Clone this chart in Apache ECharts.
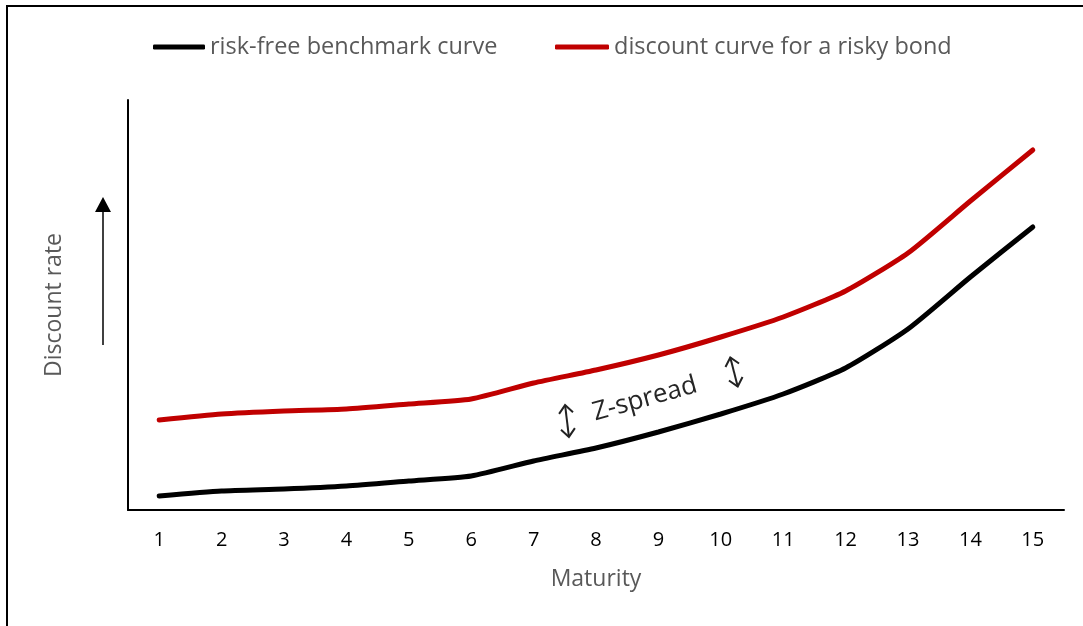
<!DOCTYPE html>
<html>
<head>
<meta charset="utf-8">
<script src="https://cdn.jsdelivr.net/npm/echarts@6/dist/echarts.min.js"></script>
<style>
html,body{margin:0;padding:0;background:#fff;}
#chart{width:1083px;height:626px;}
</style>
</head>
<body>
<div id="chart"></div>
<script>
const maturities = ['1','2','3','4','5','6','7','8','9','10','11','12','13','14','15'];
const riskFree = [1.4, 1.9, 2.1, 2.4, 2.9, 3.4, 4.9, 6.2, 7.8, 9.6, 11.6, 14.2, 18.1, 23.3, 28.3];
const risky = [9.0, 9.6, 9.9, 10.1, 10.6, 11.1, 12.7, 14.0, 15.5, 17.3, 19.3, 21.9, 25.7, 30.9, 36.0];
const seriesNames = ['risk-free benchmark curve', 'discount curve for a risky bond'];

const FONT = 'Open Sans';
const chart = echarts.init(document.getElementById('chart'), null, {renderer: 'canvas'});

function dblArrow(cx, cy, half, rot) {
  return {
    type: 'group', x: cx, y: cy, rotation: rot, silent: true,
    children: [
      {type: 'line', shape: {x1: 0, y1: -half, x2: 0, y2: half}, style: {stroke: '#222', lineWidth: 2}},
      {type: 'polyline', shape: {points: [[-7, -half + 8], [0, -half], [7, -half + 8]]}, style: {stroke: '#222', lineWidth: 2, fill: null}},
      {type: 'polyline', shape: {points: [[-7, half - 8], [0, half], [7, half - 8]]}, style: {stroke: '#222', lineWidth: 2, fill: null}}
    ]
  };
}

chart.setOption({
  animation: false,
  backgroundColor: '#fff',
  textStyle: {fontFamily: FONT},
  legend: [
    {data: [seriesNames[0]], left: 153, top: 35, padding: 0, itemWidth: 52, itemHeight: 5, icon: 'roundRect', itemGap: 5,
     textStyle: {fontFamily: FONT, fontSize: 23.5, color: '#595959'}},
    {data: [seriesNames[1]], left: 555, top: 35, padding: 0, itemWidth: 54, itemHeight: 5, icon: 'roundRect', itemGap: 5,
     textStyle: {fontFamily: FONT, fontSize: 23.5, color: '#595959'}}
  ],
  grid: {left: 128, right: 19, top: 100, bottom: 116},
  xAxis: {
    type: 'category', data: maturities, boundaryGap: true,
    axisLine: {lineStyle: {color: '#000', width: 2}},
    axisTick: {show: false},
    axisLabel: {color: '#000', fontSize: 20, fontFamily: FONT, margin: 20},
    name: 'Maturity', nameLocation: 'middle', nameGap: 58,
    nameTextStyle: {color: '#595959', fontSize: 23, fontFamily: FONT}
  },
  yAxis: {
    type: 'value', min: 0, max: 41,
    axisLine: {show: true, lineStyle: {color: '#000', width: 2}},
    axisTick: {show: false}, axisLabel: {show: false}, splitLine: {show: false},
    name: 'Discount rate', nameLocation: 'middle', nameGap: 62, nameRotate: 90,
    nameTextStyle: {color: '#595959', fontSize: 23, fontFamily: FONT}
  },
  series: [
    {name: seriesNames[0], type: 'line', data: riskFree, symbol: 'none', smooth: 0.2,
     lineStyle: {color: '#000', width: 5, cap: 'round'}, itemStyle: {color: '#000'}},
    {name: seriesNames[1], type: 'line', data: risky, symbol: 'none', smooth: 0.2,
     lineStyle: {color: '#C00000', width: 5, cap: 'round'}, itemStyle: {color: '#C00000'}}
  ],
  graphic: [
    {type: 'line', shape: {x1: 6, y1: 6, x2: 1083, y2: 6}, style: {stroke: '#000', lineWidth: 2}, silent: true},
    {type: 'line', shape: {x1: 7, y1: 5, x2: 7, y2: 626}, style: {stroke: '#000', lineWidth: 2}, silent: true},
    {type: 'line', shape: {x1: 103, y1: 345, x2: 103, y2: 210}, style: {stroke: '#000', lineWidth: 1.5}, silent: true},
    {type: 'polygon', shape: {points: [[95, 212], [111, 212], [103, 197]]}, style: {fill: '#000'}, silent: true},
    {type: 'text', x: 645, y: 399, rotation: 0.27, silent: true,
     style: {text: 'Z-spread', font: '26px "Open Sans"', fill: '#262626', textAlign: 'center', textVerticalAlign: 'middle'}},
    dblArrow(567, 421, 16, 0.12),
    dblArrow(734, 372, 15, 0.25)
  ]
});
</script>
</body>
</html>
